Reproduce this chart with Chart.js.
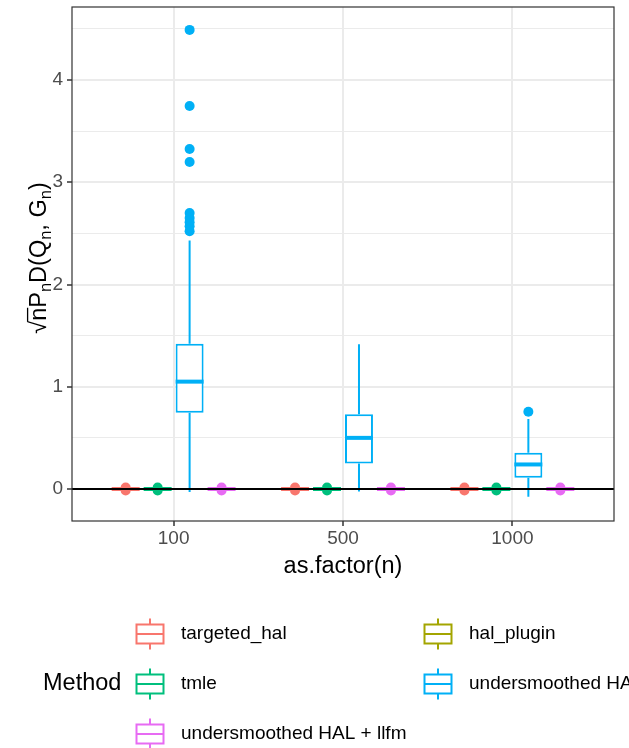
<!DOCTYPE html>
<html>
<head>
<meta charset="utf-8">
<script src="https://cdn.jsdelivr.net/npm/chart.js@4.4.1/dist/chart.umd.min.js"></script>
<style>
  html, body { margin: 0; padding: 0; background: #fff; }
</style>
</head>
<body>
<canvas id="chart" width="629" height="748"></canvas>
<script>
const nLabels = ["100", "500", "1000"];
const methods = ["targeted_hal", "hal_plugin", "tmle", "undersmoothed HAL", "undersmoothed HAL + llfm"];
const methodColors = ["#F8766D", "#A3A500", "#00BF7D", "#00B0F6", "#E76BF3"];

// box stats per method, one value per n (100, 500, 1000); hal_plugin has no data
const whiskerLow = [[-0.012, -0.012, -0.012], null, [-0.012, -0.012, -0.012], [-0.03, -0.025, -0.075], [-0.012, -0.012, -0.012]];
const q1 =         [[-0.012, -0.012, -0.012], null, [-0.012, -0.012, -0.012], [0.745, 0.25, 0.11],    [-0.012, -0.012, -0.012]];
const median =     [[0, 0, 0],                null, [0, 0, 0],                [1.05, 0.50, 0.24],     [0, 0, 0]];
const q3 =         [[0.012, 0.012, 0.012],    null, [0.012, 0.012, 0.012],    [1.42, 0.73, 0.355],    [0.012, 0.012, 0.012]];
const whiskerHigh = [[0.012, 0.012, 0.012],   null, [0.012, 0.012, 0.012],    [2.43, 1.415, 0.685],   [0.012, 0.012, 0.012]];
const outliers = [
  [[0.015, -0.015], [0.015, -0.015], [0.015, -0.015]],
  [[], [], []],
  [[0.015, -0.015], [0.015, -0.015], [0.015, -0.015]],
  [[4.49, 3.745, 3.325, 3.198, 2.70, 2.65, 2.61, 2.57, 2.52], [], [0.756]],
  [[0.015, -0.015], [0.015, -0.015], [0.015, -0.015]]
];

const CAT_PCT = 0.755;
const FONT = "'Liberation Sans', Arial, Helvetica, sans-serif";

const present = methods.map((m, k) => k).filter(k => q1[k]);
function dodge(k) {
  const slot = present.indexOf(k);
  return (slot - (present.length - 1) / 2) * CAT_PCT / present.length;
}

const datasets = [];
methods.forEach((name, k) => {
  datasets.push({
    type: "bar",
    label: name,
    methodIndex: k,
    data: nLabels.map((_, i) => ({ x: i, y: q1[k] ? [q1[k][i], q3[k][i]] : null })),
    backgroundColor: "#ffffff",
    borderColor: methodColors[k],
    borderWidth: 2,
    borderSkipped: false,
    categoryPercentage: CAT_PCT,
    barPercentage: 0.875,
    skipNull: true
  });
});
methods.forEach((name, k) => {
  const pts = [];
  outliers[k].forEach((vals, i) => vals.forEach(v => pts.push({ x: i + dodge(k), y: v })));
  if (!pts.length) return;
  datasets.push({
    type: "scatter",
    label: name + " outliers",
    data: pts,
    backgroundColor: methodColors[k],
    pointRadius: 5,
    pointBorderWidth: 0
  });
});

function isWhole(v) { return Math.abs(v - Math.round(v)) < 1e-9; }
function isHalf(v) { return Math.abs(v * 2 - Math.round(v * 2)) < 1e-9; }

function drawYTitle(ctx) {
  const big = "23.5px " + FONT, small = "16.5px " + FONT;
  const parts = [["√", 0], ["n", 0, true], ["P", 0], ["n", 1], ["D(Q", 0], ["n", 1], [", G", 0], ["n", 1], [")", 0]];
  ctx.save();
  ctx.translate(46, 258);
  ctx.rotate(-Math.PI / 2);
  ctx.fillStyle = "#000";
  ctx.textBaseline = "alphabetic";
  let total = 0;
  parts.forEach(p => { ctx.font = p[1] ? small : big; total += ctx.measureText(p[0]).width; });
  let x = -total / 2;
  ctx.font = big;
  const rad = ctx.measureText("√");
  const radTop = -rad.actualBoundingBoxAscent;
  parts.forEach(p => {
    ctx.font = p[1] ? small : big;
    const w = ctx.measureText(p[0]).width;
    ctx.fillText(p[0], x, p[1] ? 5 : 0);
    if (p[2]) {
      ctx.strokeStyle = "#000";
      ctx.lineWidth = 1.3;
      ctx.beginPath();
      ctx.moveTo(x - 1, radTop + 0.6);
      ctx.lineTo(x + w, radTop + 0.6);
      ctx.stroke();
    }
    x += w;
  });
  ctx.restore();
}

function drawKey(ctx, cx, cy, color) {
  ctx.save();
  ctx.strokeStyle = color;
  ctx.lineWidth = 2;
  ctx.fillStyle = "#fff";
  ctx.beginPath();
  ctx.moveTo(cx, cy - 15.5); ctx.lineTo(cx, cy - 9.5);
  ctx.moveTo(cx, cy + 9.5); ctx.lineTo(cx, cy + 15.5);
  ctx.stroke();
  ctx.fillRect(cx - 13.5, cy - 9.5, 27, 19);
  ctx.strokeRect(cx - 13.5, cy - 9.5, 27, 19);
  ctx.beginPath();
  ctx.moveTo(cx - 13.5, cy); ctx.lineTo(cx + 13.5, cy);
  ctx.stroke();
  ctx.restore();
}

const boxParts = {
  id: "boxParts",
  beforeDatasetsDraw(chart) {
    const { ctx, chartArea, scales: { y } } = chart;
    ctx.save();
    ctx.beginPath();
    ctx.rect(chartArea.left, chartArea.top, chartArea.width, chartArea.height);
    ctx.clip();
    chart.data.datasets.forEach((ds, di) => {
      if (ds.type !== "bar" || !q1[ds.methodIndex]) return;
      const k = ds.methodIndex;
      chart.getDatasetMeta(di).data.forEach((el, i) => {
        ctx.strokeStyle = methodColors[k];
        ctx.lineWidth = 2;
        ctx.beginPath();
        ctx.moveTo(el.x, y.getPixelForValue(whiskerLow[k][i]));
        ctx.lineTo(el.x, y.getPixelForValue(q1[k][i]));
        ctx.moveTo(el.x, y.getPixelForValue(q3[k][i]));
        ctx.lineTo(el.x, y.getPixelForValue(whiskerHigh[k][i]));
        ctx.stroke();
      });
    });
    ctx.restore();
  },
  afterDatasetsDraw(chart) {
    const { ctx, chartArea, scales: { y } } = chart;
    ctx.save();
    chart.data.datasets.forEach((ds, di) => {
      if (ds.type !== "bar" || !q1[ds.methodIndex]) return;
      const k = ds.methodIndex;
      chart.getDatasetMeta(di).data.forEach((el, i) => {
        const py = y.getPixelForValue(median[k][i]);
        ctx.strokeStyle = methodColors[k];
        ctx.lineWidth = 4;
        ctx.beginPath();
        ctx.moveTo(el.x - el.width / 2, py);
        ctx.lineTo(el.x + el.width / 2, py);
        ctx.stroke();
      });
    });
    // reference line at zero
    const y0 = y.getPixelForValue(0);
    ctx.strokeStyle = "#000";
    ctx.lineWidth = 2;
    ctx.beginPath();
    ctx.moveTo(chartArea.left, y0);
    ctx.lineTo(chartArea.right, y0);
    ctx.stroke();
    ctx.restore();
  },
  afterDraw(chart) {
    const { ctx, chartArea } = chart;
    ctx.save();
    ctx.strokeStyle = "#333333";
    ctx.lineWidth = 1.2;
    ctx.strokeRect(chartArea.left, chartArea.top, chartArea.width, chartArea.height);
    ctx.restore();

    drawYTitle(ctx);

    // legend
    ctx.save();
    ctx.fillStyle = "#000";
    ctx.textBaseline = "middle";
    ctx.textAlign = "left";
    ctx.font = "23.5px " + FONT;
    ctx.fillText("Method", 43, 684);
    ctx.font = "19px " + FONT;
    const rows = [634, 684, 734], cols = [150, 438];
    methods.forEach((name, k) => {
      const cx = cols[k % 2], cy = rows[Math.floor(k / 2)];
      drawKey(ctx, cx, cy, methodColors[k]);
      ctx.fillStyle = "#000";
      ctx.fillText(name, cx + 31, cy);
    });
    ctx.restore();
  }
};

new Chart(document.getElementById("chart"), {
  type: "bar",
  data: { datasets },
  plugins: [boxParts],
  options: {
    responsive: false,
    animation: false,
    devicePixelRatio: 1,
    layout: { padding: { top: 7, right: 15, left: 0, bottom: 167 } },
    plugins: { legend: { display: false }, tooltip: { enabled: false } },
    scales: {
      x: {
        type: "linear",
        offset: false,
        min: -0.6,
        max: 2.6,
        afterBuildTicks: s => { s.ticks = s.ticks.filter(t => isWhole(t.value) && t.value >= 0 && t.value < nLabels.length); },
        afterFit: s => { s.height = 60; s.paddingLeft = 0; s.paddingRight = 0; },
        ticks: {
          stepSize: 1,
          padding: 1,
          color: "#4D4D4D",
          font: { family: FONT, size: 19 },
          maxRotation: 0,
          autoSkip: false,
          callback: v => nLabels[v]
        },
        grid: { offset: false, color: "#EBEBEB", lineWidth: 2, tickLength: 5, tickColor: "#333333", tickWidth: 1.5 },
        border: { display: false },
        title: { display: true, text: "as.factor(n)", color: "#000", font: { family: FONT, size: 23.5 }, padding: 0 }
      },
      y: {
        min: -0.313,
        max: 4.714,
        afterBuildTicks: s => { s.ticks = s.ticks.filter(t => isHalf(t.value)); },
        afterFit: s => { s.width = 72; s.paddingTop = 0; s.paddingBottom = 0; },
        ticks: {
          stepSize: 0.5,
          padding: 4,
          color: "#4D4D4D",
          font: { family: FONT, size: 19 },
          autoSkip: false,
          callback: v => isWhole(v) ? String(Math.round(v)) : ""
        },
        grid: {
          color: "#EBEBEB",
          lineWidth: c => (c.tick && isWhole(c.tick.value)) ? 2 : 1,
          tickLength: 5,
          tickColor: c => (c.tick && isWhole(c.tick.value)) ? "#333333" : "rgba(0,0,0,0)",
          tickWidth: 1.5
        },
        border: { display: false }
      }
    }
  }
});
</script>
</body>
</html>
